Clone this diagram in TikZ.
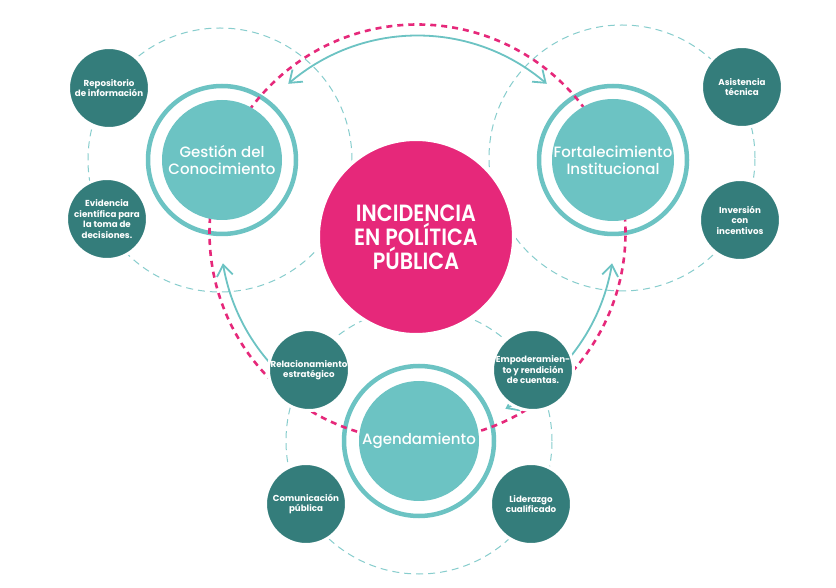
\documentclass[tikz,border=0pt]{standalone}
\usepackage{fontspec}
\setmainfont{Poppins}
\newfontfamily\hubfont[FakeStretch=0.88,UprightFont=* SemiBold]{Poppins}
\newfontfamily\pillarfont[UprightFont=* Medium]{Poppins}
\usetikzlibrary{arrows.meta,bending}
\definecolor{hubpink}{RGB}{230,40,122}
\definecolor{pillarteal}{RGB}{108,195,195}
\definecolor{satteal}{RGB}{52,125,123}
\definecolor{orbitteal}{RGB}{135,205,205}

\begin{document}
\begin{tikzpicture}[x=1pt,y=1pt,
  hub/.style={circle,fill=hubpink,draw=white,line width=4pt,minimum size=196pt,inner sep=0pt,
              align=center,text=white,font=\hubfont\fontsize{23.5}{24}\selectfont},
  pillar/.style={circle,fill=pillarteal,minimum size=120pt,inner sep=0pt,
                 align=center,text=white,font=\pillarfont\fontsize{15}{17}\selectfont},
  halo/.style={draw=pillarteal,line width=4.5pt},
  satellite/.style={circle,fill=satteal,draw=white,line width=3pt,minimum size=81pt,inner sep=0pt,
                    align=center,text=white,font=\bfseries\fontsize{8.7}{10.5}\selectfont},
  orbit/.style={draw=orbitteal,line width=1pt,dash pattern=on 7pt off 5pt},
  track/.style={draw=hubpink,line width=2.6pt,dash pattern=on 6pt off 5pt},
  arr/.style={draw=pillarteal,line width=1.8pt,-{Straight Barb[length=11pt,width=16pt,flex]}},
  arrboth/.style={arr,{Straight Barb[length=11pt,width=16pt,flex]}-{Straight Barb[length=11pt,width=16pt,flex]}}
]
  \useasboundingbox[fill=white] (0,0) rectangle (836,587);
  % Centres
  \coordinate (centre) at (417.5,354.5);
  \coordinate (gestion) at (222,427);
  \coordinate (fortal) at (613,427);
  \coordinate (agenda) at (419,146);
  % Dashed orbits
  \draw[orbit] ([xshift=-2pt]gestion) circle[radius=132];
  \draw[orbit] ([xshift=9pt,yshift=2pt]fortal) circle[radius=133];
  \draw[orbit] (agenda) circle[radius=133];
  % Flows
  \draw[arrboth] ([shift={(131:197)}]centre) arc[start angle=131,end angle=49,radius=197];
  \draw[arr] ([shift={(228:197)}]centre) arc[start angle=228,end angle=189,radius=197];
  \draw[arrboth] ([shift={(296.5:197)}]centre) arc[start angle=296.5,end angle=351,radius=197];
  % Rings
  \draw[halo] (gestion) circle[radius=74];
  \draw[halo] (fortal) circle[radius=74];
  \draw[halo] (agenda) circle[radius=75];
  % Pink track
  \draw[track] (centre) circle[radius=208];
  % Main circles
  \node[pillar] (gestion-c) at (gestion) {Gestión del\\Conocimiento};
  \node[pillar] (fortal-c) at (fortal) {Fortalecimiento\\Institucional};
  \node[pillar] (agenda-c) at (agenda) {Agendamiento};
  % Satellites
  \node[satellite] (repo) at (109,499) {Repositorio\\de información};
  \node[satellite] (evid) at (107,368) {Evidencia\\científica para\\la toma de\\decisiones.};
  \node[satellite] (asist) at (742,500) {Asistencia\\técnica};
  \node[satellite] (inver) at (740,367) {Inversión\\con\\incentivos};
  \node[satellite] (relac) at (309,217) {Relacionamiento\\estratégico};
  \node[satellite] (empod) at (533,217) {Empoderamien-\\to y rendición\\de cuentas.};
  \node[satellite] (comun) at (306,83) {Comunicación\\pública};
  \node[satellite] (lider) at (531,83) {Liderazgo\\cualificado};
  % Central circle
  \node[hub] (hub) at (416,350) {INCIDENCIA\\EN POLÍTICA\\PÚBLICA};
\end{tikzpicture}
\end{document}
